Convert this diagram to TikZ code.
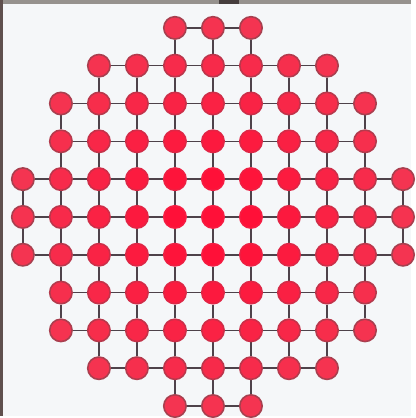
\documentclass[tikz,border=0pt]{standalone}
\pgfdeclarelayer{bg}
\pgfdeclarelayer{edges}
\pgfsetlayers{bg,edges,main}
\definecolor{paper}{RGB}{245,247,249}
\definecolor{stripgray}{RGB}{150,146,142}
\definecolor{stripdark}{RGB}{70,62,62}
\definecolor{leftstrip}{RGB}{95,80,78}
\definecolor{linkc}{RGB}{78,66,74}
\definecolor{infill}{RGB}{255,16,56}
\definecolor{outfill}{RGB}{242,60,86}
\definecolor{indraw}{RGB}{245,28,66}
\definecolor{outdraw}{RGB}{150,72,82}
\tikzset{
  peg/.style={circle, inner sep=0pt, minimum size=22.5pt, line width=1.6pt},
  link/.style={draw=linkc, line width=1.6pt}
}
\begin{document}
\begin{tikzpicture}[x=1pt,y=-1pt]
\begin{pgfonlayer}{bg}
  \fill[paper] (0,0) rectangle (413,418);
  \fill[stripgray] (0,0) rectangle (413,4.5);
  \fill[stripdark] (220,0) rectangle (240,4.5);
  \fill[leftstrip] (0,0) rectangle (3,418);
\end{pgfonlayer}
% rows: j / first col / last col / first vertical / last vertical
\foreach \j/\a/\b/\va/\vb in {0/4/6/4/6,1/2/8/2/8,2/1/9/1/9,3/1/9/1/9,4/0/10/0/10,5/0/10/0/10,6/0/10/1/9,7/1/9/1/9,8/1/9/2/8,9/2/8/4/6,10/4/6/-1/-1}{
  \foreach \i in {\a,...,\b}{
    \pgfmathsetmacro{\t}{min(100,max(0,20*sqrt((\i-5)^2+(\j-5)^2)-20))}
    \colorlet{pf}{outfill!\t!infill}
    \colorlet{pd}{outdraw!\t!indraw}
    \node[peg, fill=pf, draw=pd] (n-\i-\j) at ({23+38.2*\i},{28+38*\j}) {};
  }
}
\begin{pgfonlayer}{edges}
\foreach \j/\a/\b/\va/\vb in {0/4/6/4/6,1/2/8/2/8,2/1/9/1/9,3/1/9/1/9,4/0/10/0/10,5/0/10/0/10,6/0/10/1/9,7/1/9/1/9,8/1/9/2/8,9/2/8/4/6,10/4/6/-1/-1}{
  \pgfmathtruncatemacro{\bb}{\b-1}
  \foreach \i in {\a,...,\bb}{
    \pgfmathtruncatemacro{\ii}{\i+1}
    \draw[link] (n-\i-\j) -- (n-\ii-\j);
  }
  \ifnum\va>-1
    \pgfmathtruncatemacro{\jj}{\j+1}
    \foreach \i in {\va,...,\vb}{
      \draw[link] (n-\i-\j) -- (n-\i-\jj);
    }
  \fi
}
\end{pgfonlayer}
\end{tikzpicture}
\end{document}
